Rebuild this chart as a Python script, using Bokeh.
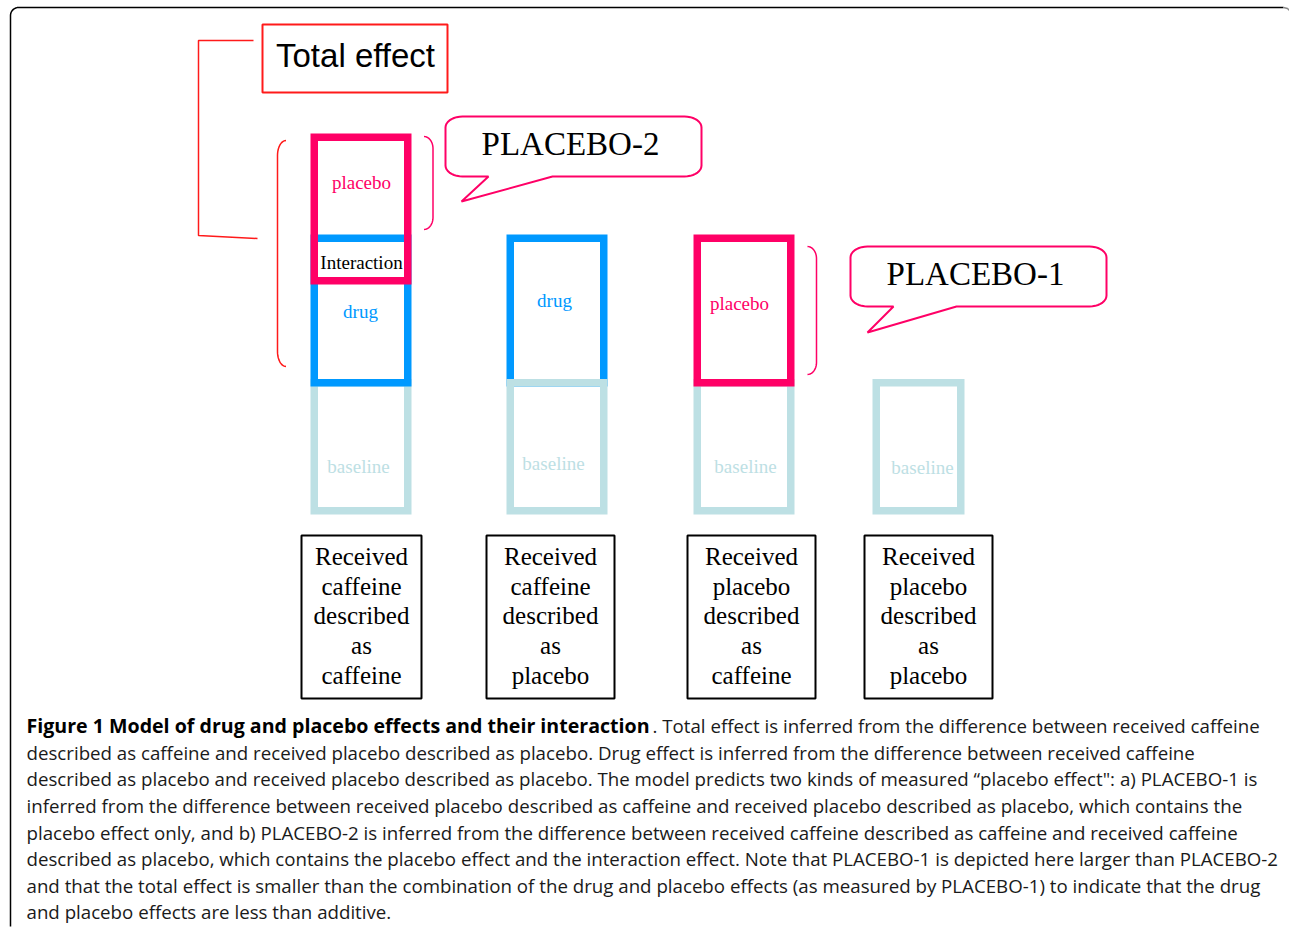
import numpy as np
from bokeh.plotting import figure
from bokeh.models import Range1d
from bokeh.embed import file_html
from bokeh.resources import INLINE
from bokeh.core.properties import value

# ---------------- data ----------------
condition_lines = [["Received", "caffeine", "described", "as", "caffeine"],
                   ["Received", "caffeine", "described", "as", "placebo"],
                   ["Received", "placebo", "described", "as", "caffeine"],
                   ["Received", "placebo", "described", "as", "placebo"]]
baseline_effect = [128, 128, 128, 128]
drug_effect = [152, 152, 0, 0]
placebo_effect = [151, 0, 152, 0]
interaction_overlap = [50, 0, 0, 0]
segment_names = ["baseline", "drug", "placebo", "Interaction"]
annotation_texts = ["Total effect", "PLACEBO-2", "PLACEBO-1"]
caption_title = "Figure 1 Model of drug and placebo effects and their interaction"
caption_lines = [
    ". Total effect is inferred from the difference between received caffeine",
    "described as caffeine and received placebo described as placebo. Drug effect is inferred from the difference between received caffeine",
    "described as placebo and received placebo described as placebo. The model predicts two kinds of measured \u201cplacebo effect\": a) PLACEBO-1 is",
    "inferred from the difference between received placebo described as caffeine and received placebo described as placebo, which contains the",
    "placebo effect only, and b) PLACEBO-2 is inferred from the difference between received caffeine described as caffeine and received caffeine",
    "described as placebo, which contains the placebo effect and the interaction effect. Note that PLACEBO-1 is depicted here larger than PLACEBO-2",
    "and that the total effect is smaller than the combination of the drug and placebo effects (as measured by PLACEBO-1) to indicate that the drug",
    "and placebo effects are less than additive.",
]

# ---------------- styles / layout ----------------
PINK = "#ff0066"
BLUE = "#0099ff"
BASE = "#bde0e4"
RED = "#ff1a1a"
SERIF = value("Liberation Serif")
SANS = value("Liberation Sans")
CAP = value("Open Sans")

W, H = 1289, 927
p = figure(width=W, height=H, x_range=Range1d(0, W), y_range=Range1d(H, 0),
           output_backend="svg", toolbar_location=None,
           x_axis_type=None, y_axis_type=None, min_border=0)
p.outline_line_color = None
p.background_fill_color = "white"
p.border_fill_color = "white"

col_x0 = [310, 506, 693, 872]
col_w = [101, 101, 101, 92]
ground = 514
sw = 7.5
baseline_above = [False, True, False, False]


def box(x0, x1, top, bottom, color):
    h = sw / 2
    p.quad(left=x0 + h, right=x1 - h, top=top + h, bottom=bottom - h,
           fill_color=None, line_color=color, line_width=sw, line_join="miter")


for i in range(4):
    x0, x1 = col_x0[i], col_x0[i] + col_w[i]
    base_top = ground - baseline_effect[i]
    draws = [(x0, x1, base_top - sw, ground, BASE)]
    if drug_effect[i] > 0:
        d_bot = base_top
        d_top = d_bot - drug_effect[i]
        draws.append((x0, x1, d_top, d_bot, BLUE))
        pl_bot = d_top + interaction_overlap[i]
    else:
        pl_bot = base_top
    if placebo_effect[i] > 0:
        pl_top = pl_bot - placebo_effect[i]
        draws.append((x0, x1, pl_top, pl_bot, PINK))
    if baseline_above[i]:
        draws = draws[1:] + draws[:1]
    for args in draws:
        box(*args)

# segment labels
seg_x = [361, 360, 361, 358, 554, 553, 739, 745, 922]
seg_y = [182, 311, 262, 466, 300, 463, 303, 466, 467]
seg_t = [segment_names[2], segment_names[1], segment_names[3], segment_names[0],
         segment_names[1], segment_names[0], segment_names[2], segment_names[0], segment_names[0]]
seg_c = [PINK, BLUE, "black", BASE, BLUE, BASE, PINK, BASE, BASE]
p.text(x=seg_x, y=seg_y, text=seg_t, text_color=seg_c, text_font=SERIF,
       text_font_size="19px", text_align="center", text_baseline="middle")

# condition label boxes
lab_x0 = [301, 486, 687, 864]
lab_x1 = [421, 614, 815, 992]
p.quad(left=lab_x0, right=lab_x1, top=[535] * 4, bottom=[698] * 4,
       fill_color=None, line_color="black", line_width=2)
line_y = [556, 586, 615, 645, 675]
tx, ty, tt = [], [], []
for i, lines in enumerate(condition_lines):
    for j, s in enumerate(lines):
        tx.append((lab_x0[i] + lab_x1[i]) / 2)
        ty.append(line_y[j])
        tt.append(s)
p.text(x=tx, y=ty, text=tt, text_font=SERIF, text_font_size="25px",
       text_color="black", text_align="center", text_baseline="middle")

# total effect box and bracket
p.quad(left=262, right=447, top=24, bottom=92, fill_color=None, line_color=RED, line_width=2)
p.text(x=[355], y=[55], text=[annotation_texts[0]], text_font=SANS, text_font_size="33px",
       text_color="black", text_align="center", text_baseline="middle")
p.line(x=[253, 198, 198, 257], y=[40, 40, 235, 238], line_color=RED, line_width=1.5)


def bracket(xv, y0, y1, dx, ry, color, lw):
    s = np.linspace(np.pi / 2, 0, 12)
    xt = xv + dx * (1 - np.cos(s))
    yt = y0 + ry * (1 - np.sin(s))
    s2 = np.linspace(0, np.pi / 2, 12)
    xb = xv + dx * (1 - np.cos(s2))
    yb = y1 - ry * (1 - np.sin(s2))
    p.line(x=np.concatenate([xt, xb]), y=np.concatenate([yt, yb]), line_color=color, line_width=lw)


bracket(277, 140, 366, 8.5, 15, RED, 1.5)
bracket(432.5, 136, 229, -9, 12, PINK, 1.5)
bracket(816, 246, 374, -9, 12, PINK, 1.5)


def bubble(x0, x1, y0, y1, rx, ry, tl, tr, tip, label, ty):
    xs, ys = [], []

    def corner(cx, cy, a0, a1):
        t = np.linspace(np.radians(a0), np.radians(a1), 10)
        xs.extend(cx + rx * np.cos(t))
        ys.extend(cy + ry * np.sin(t))

    corner(x0 + rx, y0 + ry, 180, 270)
    corner(x1 - rx, y0 + ry, 270, 360)
    corner(x1 - rx, y1 - ry, 0, 90)
    xs.extend([tr, tip[0], tl])
    ys.extend([y1, tip[1], y1])
    corner(x0 + rx, y1 - ry, 90, 180)
    p.patch(x=xs, y=ys, fill_color="white", line_color=PINK, line_width=2)
    p.text(x=[(x0 + x1) / 2 - 3], y=[ty], text=[label], text_font=SERIF, text_font_size="33px",
           text_color="black", text_align="center", text_baseline="middle")


bubble(445, 701, 116, 176, 17, 11, 488, 552, (461, 201), annotation_texts[1], 143)
bubble(850, 1106, 246, 306, 17, 11, 893, 956, (867, 332), annotation_texts[2], 273)

# outer frame
t = np.linspace(np.pi, 1.5 * np.pi, 10)
fx = [10.0] + list(18 + 8 * np.cos(t)) + [1283]
fy = [926.0] + list(15 + 8 * np.sin(t)) + [7]
p.line(x=fx, y=fy, line_color="black", line_width=1.5)
p.line(x=[1283, 1287, 1290], y=[7, 8, 11], line_color="#888888", line_width=1.5)

# caption
cap_y = [725, 752, 778, 805, 832, 858, 885, 911]
p.text(x=[26], y=[cap_y[0]], text=[caption_title], text_font=CAP, text_font_size="19.6px",
       text_font_style="bold", text_color="black", text_align="left", text_baseline="middle")
p.text(x=[652] + [26] * 7, y=cap_y, text=caption_lines, text_font=CAP, text_font_size="18.7px",
       text_color="#1a1a1a", text_align="left", text_baseline="middle")

open("out.html", "w").write(file_html(p, INLINE))
